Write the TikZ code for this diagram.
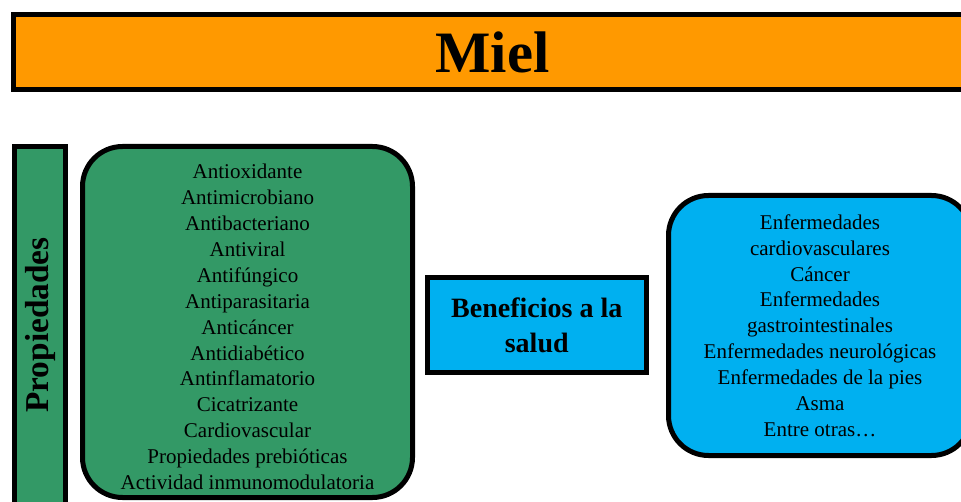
\documentclass[tikz,border=0pt]{standalone}
\usepackage{fontspec}
\setmainfont{Liberation Serif}
\definecolor{miel}{HTML}{FF9900}
\definecolor{verde}{HTML}{339966}
\definecolor{celeste}{HTML}{00B0F0}
\begin{document}
\begin{tikzpicture}[x=0.75pt,y=-0.75pt,
  box/.style={draw=black,line width=3.75pt,inner sep=0pt,outer sep=0pt,rectangle},
  roundbox/.style={box,rounded corners=30pt},
  listtext/.style={align=center,inner sep=0pt,font=\fontsize{15.75}{19.4}\selectfont}]
\useasboundingbox (0,0) rectangle (961,502);
\clip (0,0) rectangle (961,502);
\node[box,fill=miel,minimum width=718.5pt,minimum height=56.25pt,
  font=\fontsize{44}{50}\selectfont\bfseries] (title) at (492.5,52) {Miel};
\node[box,fill=verde,minimum width=38.6pt,minimum height=287.6pt] (propbar) at (39.75,338.25) {};
\node[rotate=90,inner sep=0pt,font=\fontsize{25}{29}\selectfont\bfseries] (proplabel) at (40,325) {Propiedades};
\node[roundbox,fill=verde,minimum width=247.5pt,minimum height=263.25pt] (props) at (247.5,322) {};
\node[listtext] (proptext) at (247.5,327) {Antioxidante\\Antimicrobiano\\Antibacteriano\\Antiviral\\Antifúngico\\Antiparasitaria\\Anticáncer\\Antidiabético\\Antinflamatorio\\Cicatrizante\\Cardiovascular\\Propiedades prebióticas\\Actividad inmunomodulatoria};
\node[box,fill=celeste,minimum width=164.6pt,minimum height=70.9pt,align=center,
  font=\fontsize{21}{26.25}\selectfont\bfseries] (benef) at (536.75,325.25) {Beneficios a la\\salud};
\node[roundbox,fill=celeste,minimum width=227.25pt,minimum height=195pt,listtext] (enf) at (820,325.5) {Enfermedades\\cardiovasculares\\Cáncer\\Enfermedades\\gastrointestinales\\Enfermedades neurológicas\\Enfermedades de la pies\\Asma\\Entre otras…};
\end{tikzpicture}
\end{document}
